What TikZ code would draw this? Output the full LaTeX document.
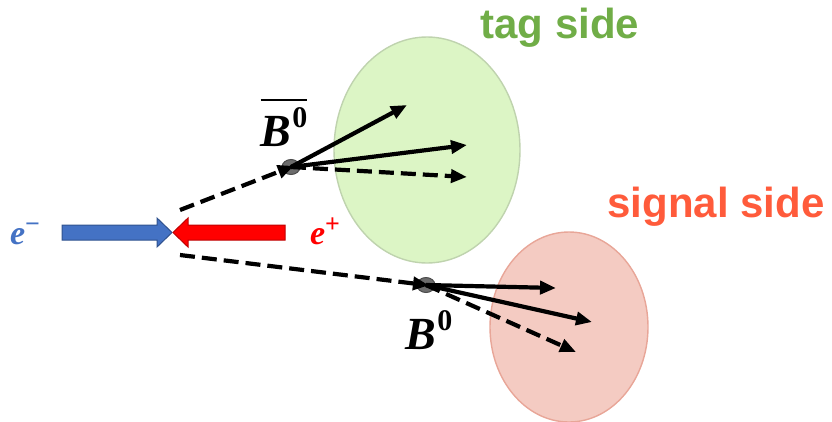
\documentclass[tikz,border=0pt]{standalone}
\usepackage{fontspec}
\newfontfamily\arialbf{Liberation Sans}
\newfontfamily\serifbi{Liberation Serif}
\usetikzlibrary{arrows.meta,shapes.geometric}
\definecolor{tagfill}{HTML}{DCF5C5}
\definecolor{tagdraw}{HTML}{BFD3AE}
\definecolor{sigfill}{HTML}{F4CBC2}
\definecolor{sigdraw}{HTML}{E8A698}
\definecolor{taggreen}{HTML}{70AD47}
\definecolor{sigred}{HTML}{FF5B3B}
\definecolor{eblue}{HTML}{4472C4}
\definecolor{eblued}{HTML}{2F528F}
\definecolor{ered}{HTML}{FF0000}
\definecolor{eredd}{HTML}{C00000}
\newcommand{\bzero}{{\serifbi\bfseries\itshape\fontsize{46}{46}\selectfont B}\kern1pt{\serifbi\bfseries\fontsize{30}{30}\selectfont\raisebox{19pt}{0}}}
\newcommand{\elep}[1]{{\serifbi\bfseries\itshape\fontsize{34}{34}\selectfont e}{\serifbi\bfseries\fontsize{26}{26}\selectfont\raisebox{12pt}{#1}}}
\tikzset{
  trk/.style={line width=4.2pt, -{Triangle[length=16pt,width=13pt]}},
  dtrk/.style={trk, dash pattern=on 15pt off 7pt},
  vtx/.style={ellipse, fill=gray!85!black, draw=black!70, line width=1pt, minimum width=18pt, minimum height=15pt, inner sep=0pt},
  sidelbl/.style={font=\arialbf\fontsize{42}{42}\selectfont\bfseries},
  blbl/.style={inner sep=0pt, anchor=base},
}
\begin{document}
\begin{tikzpicture}[x=1pt,y=-1pt]
\useasboundingbox (0,0) rectangle (832,421);
% regions
\draw[fill=tagfill, draw=tagdraw, line width=1.4pt] (427,150) ellipse [x radius=93, y radius=113];
\draw[fill=sigfill, draw=sigdraw, line width=1.4pt] (569,327) ellipse [x radius=79, y radius=95];
% labels
\node[sidelbl, text=taggreen] (tag) at (560,28) {tag side};
\node[sidelbl, text=sigred] (sig) at (716,207) {signal side};
% beams
\draw[fill=eblue, draw=eblued, line width=1pt] (62,225) -- (157,225) -- (157,218) -- (172,232.5) -- (157,247) -- (157,240) -- (62,240) -- cycle;
\draw[fill=ered, draw=eredd, line width=1pt] (285,225) -- (188,225) -- (188,218) -- (173,232.5) -- (188,247) -- (188,240) -- (285,240) -- cycle;
\node[blbl, text=eblue] (em) at (25,244) {\elep{\char"2212}};
\node[blbl, text=ered] (ep) at (325,244) {\elep{+}};
% vertices
\coordinate (s1) at (180,210);
\coordinate (s2) at (180,255);
\node[vtx] (v1) at (291,167) {};
\node[vtx] (v2) at (426,285) {};
\draw[dtrk, shorten >=-3pt] (s1) -- (v1.center);
\draw[dtrk, shorten >=-3pt] (s2) -- (v2.center);
% tag side tracks
\coordinate (t1) at (407,105);
\coordinate (t2) at (467,145);
\coordinate (t3) at (467,177);
\draw[trk] (v1.center) -- (t1);
\draw[trk] (v1.center) -- (t2);
\draw[dtrk] (v1.center) -- (t3);
% signal side tracks
\coordinate (u1) at (556,288);
\coordinate (u2) at (592,322);
\coordinate (u3) at (576,352);
\draw[trk] (v2.center) -- (u1);
\draw[trk] (v2.center) -- (u2);
\draw[dtrk] (v2.center) -- (u3);
% B labels
\node[blbl] (bbar) at (284,146) {\vbox{\hrule height 2.4pt\kern6pt\hbox{\bzero}}};
\node[blbl] (b0) at (429,349) {\bzero};
\end{tikzpicture}
\end{document}
